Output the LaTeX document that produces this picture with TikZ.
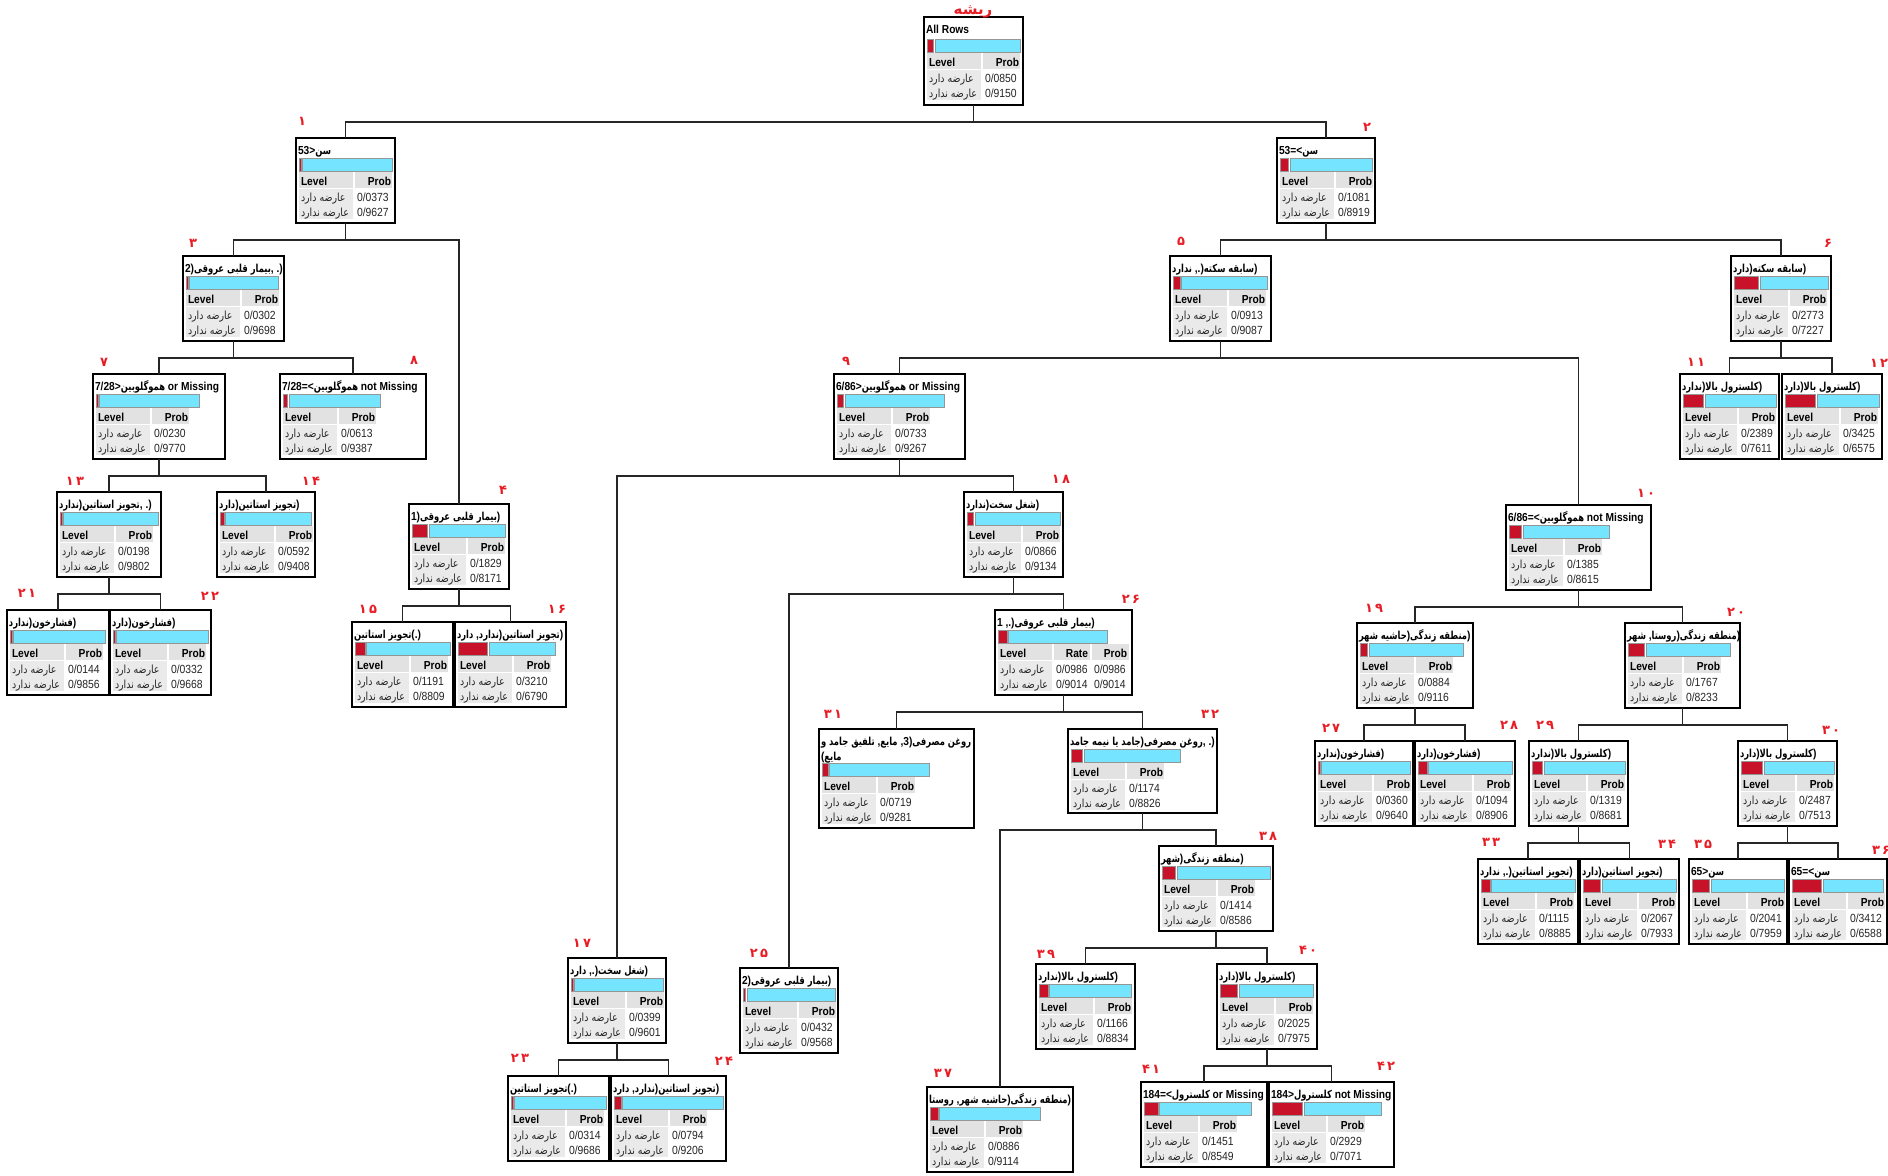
\documentclass[tikz,border=0pt]{standalone}
\usepackage{fontspec}
\setmainfont{Liberation Sans}[FakeStretch=0.88]
\newfontfamily\fa{DejaVu Sans}[Script=Arabic,Scale=0.95,FakeStretch=0.84]
\newfontfamily\fab{DejaVu Sans}[Script=Arabic,Scale=0.95,FakeStretch=0.76]
\newfontfamily\fanum{DejaVu Sans}[Script=Arabic]
\TeXXeTstate=1
\definecolor{barred}{RGB}{200,18,42}
\definecolor{barcyan}{RGB}{116,228,255}
\definecolor{cellA}{RGB}{226,226,226}
\definecolor{cellB}{RGB}{234,234,234}
\definecolor{numred}{RGB}{232,28,36}
\definecolor{bargray}{RGB}{150,150,150}
\let\curfa\fa
\newcommand\RT[1]{{\curfa\beginR #1\endR}}
\newcommand\hoff{0}
\tikzset{
  box/.style={draw=black, line width=0.6pt, fill=white, inner sep=0pt, outer sep=0pt},
  hdr/.style={inner sep=0pt, outer sep=0pt, font=\fontsize{5.8}{7}\selectfont\bfseries\let\curfa\fab, text=black},
  lvl/.style={inner sep=0pt, outer sep=0pt, font=\fontsize{5.8}{7}\selectfont\bfseries, text=black},
  dat/.style={inner sep=0pt, outer sep=0pt, font=\fontsize{5.9}{7}\selectfont, text=black!85},
  redbar/.style={fill=barred, draw=bargray, line width=0.3pt},
  cyanbar/.style={fill=barcyan, draw=bargray, line width=0.3pt},
  conn/.style={draw=black!85, line width=0.55pt},
  numlbl/.style={inner sep=0pt, outer sep=0pt, font=\fanum\fontsize{6.5}{7}\selectfont\bfseries, text=numred},
}
% name x1 y1 x2 y2 barend p q header
\newcommand\tnode[9]{%
  \pgfmathsetmacro\bw{#6-#2-3}%
  \pgfmathsetmacro\rw{max(2,0.#7*\bw-1.5)}%
  \pgfmathsetmacro\yo{#3+\hoff}%
  \node[box, minimum width={(#4-#2)*0.5pt}, minimum height={(#5-#3)*0.5pt}, anchor=north west] (#1) at (#2,#3) {};
  \node[hdr, anchor=base west] (#1h) at (#2+2,#3+16) {#9};
  \path[redbar] (#2+3,\yo+20) rectangle (#2+3+\rw,\yo+33);
  \path[cyanbar] (#2+4.5+\rw,\yo+20) rectangle (#6,\yo+33);
  \fill[cellA] (#2+3,\yo+34) rectangle (#2+57,\yo+50);
  \fill[cellA] (#2+59,\yo+34) rectangle (#2+96,\yo+50);
  \fill[cellB] (#2+3,\yo+51) rectangle (#2+57,\yo+81);
  \node[lvl, anchor=base west] (#1lv) at (#2+5,\yo+47) {Level};
  \node[lvl, anchor=base east] (#1pr) at (#2+95,\yo+47) {Prob};
  \node[dat, anchor=base west] (#1a) at (#2+5,\yo+63) {\RT{عارضه دارد}};
  \node[dat, anchor=base west] (#1b) at (#2+5,\yo+78) {\RT{عارضه ندارد}};
  \node[dat, anchor=base west] (#1pa) at (#2+61,\yo+63) {0/#7};
  \node[dat, anchor=base west] (#1pb) at (#2+61,\yo+78) {0/#8};
}
\newcommand\tnodeR[9]{%
  \pgfmathsetmacro\bw{#6-#2-3}%
  \pgfmathsetmacro\rw{max(2,0.#7*\bw-1.5)}%
  \pgfmathsetmacro\yo{#3+\hoff}%
  \node[box, minimum width={(#4-#2)*0.5pt}, minimum height={(#5-#3)*0.5pt}, anchor=north west] (#1) at (#2,#3) {};
  \node[hdr, anchor=base west] (#1h) at (#2+2,#3+16) {#9};
  \path[redbar] (#2+3,\yo+20) rectangle (#2+3+\rw,\yo+33);
  \path[cyanbar] (#2+4.5+\rw,\yo+20) rectangle (#6,\yo+33);
  \fill[cellA] (#2+3,\yo+34) rectangle (#2+57,\yo+50);
  \fill[cellA] (#2+59,\yo+34) rectangle (#2+95,\yo+50);
  \fill[cellA] (#2+97,\yo+34) rectangle (#2+134,\yo+50);
  \fill[cellB] (#2+3,\yo+51) rectangle (#2+57,\yo+81);
  \node[lvl, anchor=base west] (#1lv) at (#2+5,\yo+47) {Level};
  \node[lvl, anchor=base east] (#1rt) at (#2+93,\yo+47) {Rate};
  \node[lvl, anchor=base east] (#1pr) at (#2+132,\yo+47) {Prob};
  \node[dat, anchor=base west] (#1a) at (#2+5,\yo+63) {\RT{عارضه دارد}};
  \node[dat, anchor=base west] (#1b) at (#2+5,\yo+78) {\RT{عارضه ندارد}};
  \node[dat, anchor=base west] (#1ra) at (#2+61,\yo+63) {0/#7};
  \node[dat, anchor=base west] (#1rb) at (#2+61,\yo+78) {0/#8};
  \node[dat, anchor=base west] (#1pa) at (#2+99,\yo+63) {0/#7};
  \node[dat, anchor=base west] (#1pb) at (#2+99,\yo+78) {0/#8};
}
\begin{document}
\begin{tikzpicture}[x=0.5pt,y=-0.5pt]
\useasboundingbox (0,0) rectangle (1888,1175);
\fill[white] (0,0) rectangle (1888,1175);

\renewcommand\hoff{2}
\tnode{n0}{924}{17}{1023}{105}{1020}{0850}{9150}{All Rows}
\renewcommand\hoff{0}
\tnode{n1}{296}{138}{395}{223}{392}{0373}{9627}{53>\RT{سن}}
\tnode{n2}{1277}{138}{1375}{223}{1372}{1081}{8919}{53=<\RT{سن}}
\tnode{n3}{183}{256}{284}{341}{278}{0302}{9698}{2)\RT{بیمار قلبی عروقی}, .)}
\tnode{n4}{409}{504}{509}{589}{505}{1829}{8171}{1)\RT{بیمار قلبی عروقی})}
\tnode{n5}{1170}{256}{1271}{341}{1267}{0913}{9087}{\RT{ندارد}\ ,.)\RT{سابقه سکته})}
\tnode{n6}{1731}{256}{1831}{341}{1828}{2773}{7227}{\RT{دارد})\RT{سابقه سکته})}
\tnode{n7}{93}{374}{225}{459}{199}{0230}{9770}{7/28>\RT{هموگلوبین} or Missing}
\tnode{n8}{280}{374}{426}{459}{380}{0613}{9387}{7/28=<\RT{هموگلوبین} not Missing}
\tnode{n9}{834}{374}{965}{459}{944}{0733}{9267}{6/86>\RT{هموگلوبین} or Missing}
\tnode{n10}{1506}{505}{1651}{590}{1609}{1385}{8615}{6/86=<\RT{هموگلوبین} not Missing}
\tnode{n11}{1680}{374}{1779}{459}{1776}{2389}{7611}{\RT{ندارد})\RT{کلسترول بالا})}
\tnode{n12}{1782}{374}{1882}{459}{1879}{3425}{6575}{\RT{دارد})\RT{کلسترول بالا})}
\tnode{n13}{57}{492}{161}{577}{158}{0198}{9802}{\RT{ندارد})\RT{تجویز استاتین}, .)}
\tnode{n14}{217}{492}{315}{577}{311}{0592}{9408}{\RT{دارد})\RT{تجویز استاتین})}
\tnode{n15}{352}{622}{453}{707}{450}{1191}{8809}{\RT{تجویز استاتین}(.)}
\tnode{n16}{455}{622}{566}{707}{555}{3210}{6790}{\RT{دارد}\ ,\RT{ندارد})\RT{تجویز استاتین})}
\tnode{n17}{568}{958}{666}{1043}{663}{0399}{9601}{\RT{دارد}\ ,.)\RT{شغل سخت})}
\tnode{n18}{964}{492}{1063}{577}{1060}{0866}{9134}{\RT{ندارد})\RT{شغل سخت})}
\tnode{n19}{1357}{623}{1473}{708}{1463}{0884}{9116}{\RT{حاشیه شهر})\RT{منطقه زندگی})}
\tnode{n20}{1625}{623}{1740}{708}{1730}{1767}{8233}{\RT{شهر}\ ,\RT{روستا})\RT{منطقه زندگی})}
\tnode{n21}{7}{610}{109}{695}{105}{0144}{9856}{\RT{ندارد})\RT{فشارخون})}
\tnode{n22}{110}{610}{211}{695}{208}{0332}{9668}{\RT{دارد})\RT{فشارخون})}
\tnode{n23}{508}{1076}{609}{1161}{606}{0314}{9686}{\RT{تجویز استاتین}(.)}
\tnode{n24}{611}{1076}{726}{1161}{723}{0794}{9206}{\RT{دارد}\ ,\RT{ندارد})\RT{تجویز استاتین})}
\tnode{n25}{740}{968}{838}{1053}{835}{0432}{9568}{2)\RT{بیمار قلبی عروقی})}
\tnodeR{n26}{995}{610}{1132}{695}{1107}{0986}{9014}{1\ ,.)\RT{بیمار قلبی عروقی})}
\tnode{n27}{1315}{741}{1413}{826}{1410}{0360}{9640}{\RT{ندارد})\RT{فشارخون})}
\tnode{n28}{1415}{741}{1515}{826}{1512}{1094}{8906}{\RT{دارد})\RT{فشارخون})}
\tnode{n29}{1529}{741}{1628}{826}{1625}{1319}{8681}{\RT{ندارد})\RT{کلسترول بالا})}
\tnode{n30}{1738}{741}{1837}{826}{1834}{2487}{7513}{\RT{دارد})\RT{کلسترول بالا})}
\renewcommand\hoff{14}
\tnode{n31}{819}{729}{974}{828}{929}{0719}{9281}{\RT{تلفیق جامد و}\ ,\RT{مایع}\ ,3)\RT{روغن مصرفی}}
\node[hdr, anchor=base west] (n31h2) at (821,760) {(\RT{مایع}};
\renewcommand\hoff{0}
\tnode{n32}{1068}{729}{1217}{813}{1180}{1174}{8826}{\RT{جامد یا نیمه جامد})\RT{روغن مصرفی}, .)}
\tnode{n33}{1478}{859}{1578}{944}{1575}{1115}{8885}{\RT{ندارد}\ ,.)\RT{تجویز استاتین})}
\tnode{n34}{1580}{859}{1679}{944}{1676}{2067}{7933}{\RT{دارد})\RT{تجویز استاتین})}
\tnode{n35}{1689}{859}{1787}{944}{1784}{2041}{7959}{65>\RT{سن}}
\tnode{n36}{1789}{859}{1887}{944}{1883}{3412}{6588}{65=<\RT{سن}}
\tnode{n37}{927}{1087}{1073}{1172}{1040}{0886}{9114}{\RT{روستا}\ ,\RT{حاشیه شهر})\RT{منطقه زندگی})}
\tnode{n38}{1159}{846}{1273}{931}{1270}{1414}{8586}{\RT{شهر})\RT{منطقه زندگی})}
\tnode{n39}{1036}{964}{1135}{1049}{1131}{1166}{8834}{\RT{ندارد})\RT{کلسترول بالا})}
\tnode{n40}{1217}{964}{1317}{1049}{1313}{2025}{7975}{\RT{دارد})\RT{کلسترول بالا})}
\tnode{n41}{1141}{1082}{1267}{1167}{1251}{1451}{8549}{184=<\RT{کلسترول} or Missing}
\tnode{n42}{1269}{1082}{1394}{1167}{1381}{2929}{7071}{184>\RT{کلسترول} not Missing}

\foreach \p/\c in {n0/n1,n0/n2,n1/n3,n1/n4,n2/n5,n2/n6,n3/n7,n3/n8,n5/n9,n5/n10,
  n6/n11,n6/n12,n7/n13,n7/n14,n4/n15,n4/n16,n9/n17,n9/n18,n13/n21,n13/n22,
  n18/n25,n18/n26,n10/n19,n10/n20,n17/n23,n17/n24,n26/n31,n26/n32,n19/n27,n19/n28,
  n20/n29,n20/n30,n29/n33,n29/n34,n30/n35,n30/n36,n32/n37,n32/n38,n38/n39,n38/n40,
  n40/n41,n40/n42}
  \draw[conn] (\p.south) -- ++(0,17) -| (\c.north);

\node[numlbl, font=\fanum\fontsize{7.5}{8}\selectfont\bfseries] (lroot) at (973,12) {\beginR ریشه\endR};
\foreach \nm/\x/\y/\t in {1/302/121/۱, 2/1367/127/۲, 3/193/243/۳, 4/503/490/۴,
  5/1181/241/۵, 6/1828/243/۶, 7/104/362/۷, 8/414/360/۸, 9/846/361/۹,
  10/1646/493/۱\,۰, 11/1696/362/۱\,۱, 12/1879/363/۱\,۲, 13/75/481/۱\,۳,
  14/311/481/۱\,۴, 15/368/609/۱\,۵, 16/557/609/۱\,۶, 17/582/943/۱\,۷,
  18/1061/479/۱\,۸, 19/1374/608/۱\,۹, 20/1736/612/۲\,۰, 21/27/593/۲\,۱,
  22/210/596/۲\,۲, 23/520/1058/۲\,۳, 24/724/1061/۲\,۴, 25/759/953/۲\,۵,
  26/1131/599/۲\,۶, 27/1331/728/۲\,۷, 28/1509/725/۲\,۸, 29/1545/725/۲\,۹,
  30/1831/730/۳\,۰, 31/833/714/۳\,۱, 32/1210/714/۳\,۲, 33/1491/842/۳\,۳,
  34/1667/844/۳\,۴, 35/1703/844/۳\,۵, 36/1881/850/۳\,۶, 37/943/1073/۳\,۷,
  38/1268/836/۳\,۸, 39/1046/954/۳\,۹, 40/1308/950/۴\,۰, 41/1151/1069/۴\,۱,
  42/1386/1066/۴\,۲}
  \node[numlbl] (l\nm) at (\x,\y) {\t};
\end{tikzpicture}
\end{document}
